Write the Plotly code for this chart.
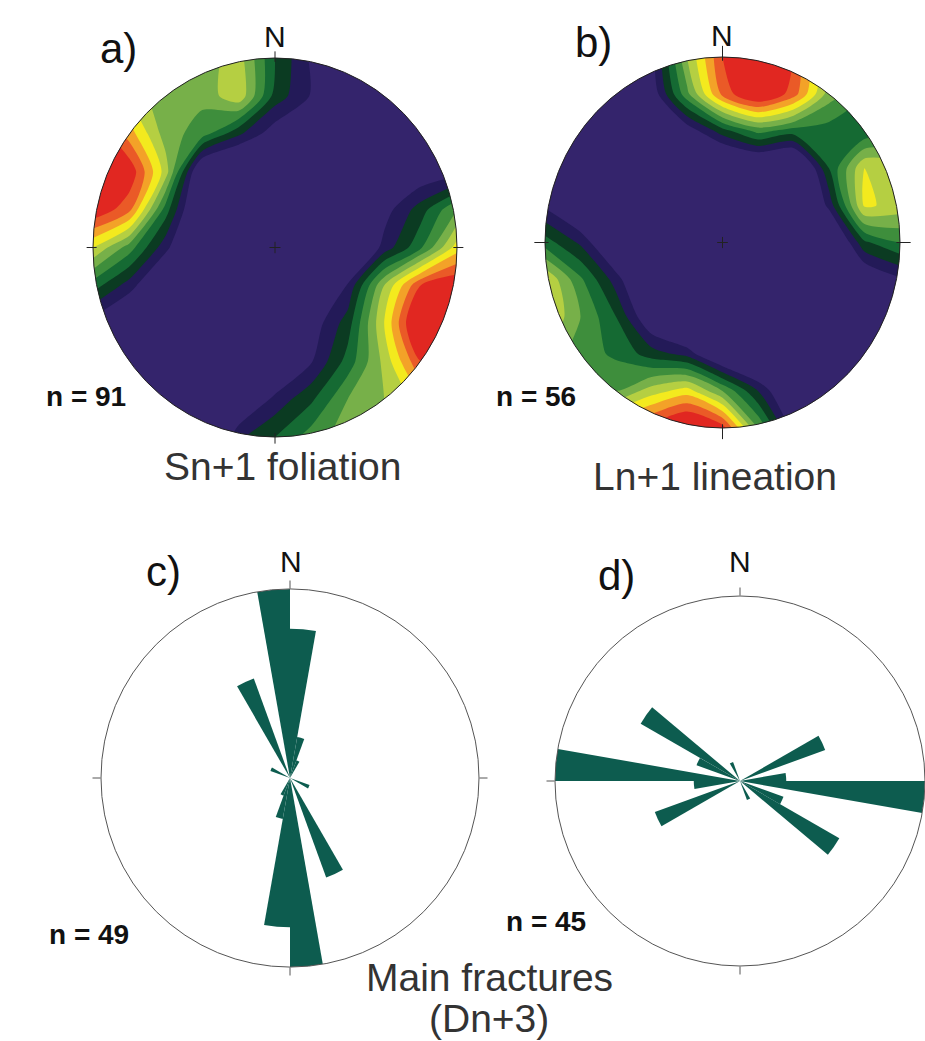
import numpy as np
import plotly.graph_objects as go

W, H = 925, 1041

# ---------------- data ----------------
# density grids (contour level units) read from the stereonets; rows from north (y=1) to south (y=-1)
grid_x = [-1.0, -0.8, -0.6, -0.4, -0.2, 0.0, 0.2, 0.4, 0.6, 0.8, 1.0]
grid_y = [1.0, 0.8, 0.6, 0.4, 0.2, 0.0, -0.2, -0.4, -0.6, -0.8, -1.0]

density_a = [
    [6.0, 6.0, 6.0, 5.5, 6.5, 3.0, 0.8, -1.0, -2.0, -2.0, -2.0],
    [7.0, 6.5, 5.5, 5.3, 6.8, 2.6, 0.9, -1.0, -2.0, -2.0, -2.0],
    [11.0, 8.5, 5.5, 4.5, 2.2, 0.3, -1.5, -2.0, -2.0, -2.0, -2.0],
    [12.5, 10.8, 6.5, -1.0, -2.0, -2.0, -2.0, -2.0, -1.0, 0.0, 0.5],
    [11.0, 9.3, 3.5, -1.5, -2.0, -2.0, -2.0, -1.0, 0.5, 2.5, 5.0],
    [7.0, 4.5, 1.3, -1.5, -2.0, -2.0, -2.0, -1.5, 1.4, 3.8, 7.5],
    [3.5, 1.5, -1.0, -2.0, -2.0, -2.0, -1.0, 1.1, 6.0, 10.0, 11.0],
    [0.5, -1.0, -2.0, -2.0, -2.0, -2.0, 0.3, 2.5, 7.0, 12.0, 12.0],
    [-1.0, -2.0, -2.0, -2.0, -2.0, -1.0, 0.9, 3.4, 6.3, 10.0, 10.0],
    [-2.0, -2.0, -2.0, -2.0, -0.8, 1.3, 2.8, 5.0, 6.0, 7.5, 8.0],
    [-2.0, -2.0, -2.0, -2.0, 1.8, 3.0, 4.5, 5.5, 6.0, 7.0, 8.0],
]

density_b = [
    [-2.0, -2.0, -1.0, 0.5, 6.0, 10.0, 12.0, 10.0, 6.0, 4.0, 3.0],
    [-2.0, -2.0, -1.0, 0.1, 4.7, 9.3, 11.5, 9.5, 5.5, 4.0, 3.5],
    [-2.0, -2.0, -2.0, -1.5, 0.2, 2.5, 4.3, 3.5, 3.5, 3.2, 3.5],
    [0.0, -1.0, -2.0, -2.0, -2.0, -2.0, -1.5, -2.0, 3.0, 7.0, 6.8],
    [0.8, -1.0, -2.0, -2.0, -2.0, -2.0, -2.0, -2.0, 1.3, 7.2, 6.6],
    [3.5, 1.8, -1.0, -2.0, -2.0, -2.0, -2.0, -2.0, -1.5, 2.8, 4.0],
    [7.0, 4.2, 1.5, -1.5, -2.0, -2.0, -2.0, -2.0, -2.0, -0.5, 0.8],
    [7.2, 5.0, 3.0, -0.3, -2.0, -2.0, -2.0, -2.0, -2.0, -2.0, -1.0],
    [6.0, 4.5, 3.8, 2.5, 1.6, -1.0, -2.0, -2.0, -2.0, -2.0, -2.0],
    [6.0, 5.5, 5.0, 6.5, 7.5, 5.0, 2.0, -1.0, -2.0, -2.0, -2.0],
    [6.0, 7.0, 9.0, 10.5, 12.0, 10.5, 5.0, 0.5, -1.0, -2.0, -2.0],
]

# rose diagrams: 10-degree bins 0-180 (bidirectional, mirrored to 180-360)
rose_bin_start = [0, 10, 20, 30, 40, 50, 60, 70, 80, 90, 100, 110, 120, 130, 140, 150, 160, 170]
rose_c = [0.79, 0.22, 0.10, 0, 0, 0, 0, 0, 0, 0, 0, 0.11, 0, 0, 0, 0.56, 0, 1.0]
rose_d = [0, 0, 0, 0, 0, 0, 0.49, 0, 0.25, 1.0, 0, 0.25, 0.62, 0, 0, 0.11, 0, 0]

labels_n = ["n = 91", "n = 56", "n = 49", "n = 45"]

# ---------------- style ----------------
level_colors = ["#34246c", "#231a58", "#0b3b22", "#156a33", "#3e8e3c", "#77b049",
                "#b5cf42", "#f3ea1e", "#f3a228", "#ea5a27", "#e12721"]
petal_color = "#0d5c4f"
FONT = "Liberation Sans, Arial, sans-serif"


def fx(px):
    return px / W


def fy(py):
    return 1 - py / H


fig = go.Figure()

colorscale = [[i / 10, c] for i, c in enumerate(level_colors)]
R = 1.08

stereo = [
    dict(z=density_a, cx=275, cy=247.5, rx=182, ry=189.5, xa="x", ya="y", tick_out=0.035),
    dict(z=density_b, cx=722.5, cy=242.5, rx=177.5, ry=185.5, xa="x2", ya="y2", tick_out=0.06),
]

shapes = []
layout_axes = {}
circ_t = np.linspace(0, -2 * np.pi, 241)
for k, s in enumerate(stereo):
    fig.add_trace(go.Contour(
        x=grid_x, y=grid_y[::-1], z=s["z"][::-1],
        xaxis=s["xa"], yaxis=s["ya"],
        colorscale=colorscale, showscale=False, hoverinfo="skip",
        contours=dict(start=1, end=10, size=1, coloring="fill", showlines=False),
        line=dict(width=0, smoothing=0.7),
    ))
    xname = "xaxis" if k == 0 else "xaxis2"
    yname = "yaxis" if k == 0 else "yaxis2"
    layout_axes[xname] = dict(domain=[fx(s["cx"] - R * s["rx"]), fx(s["cx"] + R * s["rx"])],
                              range=[-R, R], visible=False, fixedrange=True,
                              anchor=s["ya"])
    layout_axes[yname] = dict(domain=[fy(s["cy"] + R * s["ry"]), fy(s["cy"] - R * s["ry"])],
                              range=[-R, R], visible=False, fixedrange=True,
                              anchor=s["xa"])
    # white mask outside the net
    M = 1.5
    path = f"M{-M},{-M} L{M},{-M} L{M},{M} L{-M},{M} Z M" + " L".join(
        f"{np.cos(t):.4f},{np.sin(t):.4f}" for t in circ_t) + " Z"
    shapes.append(dict(type="path", path=path, xref=s["xa"], yref=s["ya"],
                       fillcolor="white", line=dict(width=0), layer="above"))
    shapes.append(dict(type="circle", xref=s["xa"], yref=s["ya"], x0=-1, x1=1, y0=-1, y1=1,
                       line=dict(color="#222", width=1), layer="above"))
    to = s["tick_out"]
    for (x0, y0, x1, y1) in [(0, 1 - 0.02, 0, 1 + to), (0, -1 + 0.02, 0, -1 - to),
                             (-1 + 0.02, 0, -1 - to, 0), (1 - 0.02, 0, 1 + to, 0),
                             (-0.03, 0, 0.03, 0), (0, -0.03, 0, 0.03)]:
        shapes.append(dict(type="line", xref=s["xa"], yref=s["ya"], x0=x0, y0=y0, x1=x1, y1=y1,
                           line=dict(color="#222", width=1), layer="above"))

# rose diagrams
theta_full = [b + 5 for b in rose_bin_start] + [b + 185 for b in rose_bin_start]
for name, vals in [("polar", rose_c), ("polar2", rose_d)]:
    fig.add_trace(go.Barpolar(
        theta=theta_full, r=list(vals) + list(vals), width=[10] * len(theta_full),
        subplot=name, marker=dict(color=petal_color, line=dict(width=0)),
        hoverinfo="skip",
    ))

polar_common = dict(
    bgcolor="white",
    angularaxis=dict(rotation=90, direction="clockwise", showline=True, linecolor="#555",
                     linewidth=1, showgrid=False, ticks="outside", ticklen=8, tickcolor="#555",
                     tickvals=[0, 90, 180, 270], showticklabels=False),
    radialaxis=dict(visible=False, range=[0, 1]),
)
rc = 189
polar_c = dict(domain=dict(x=[fx(290 - rc), fx(290 + rc)], y=[fy(778 + rc), fy(778 - rc)]), **polar_common)
rd = 185
polar_d = dict(domain=dict(x=[fx(740 - rd), fx(740 + rd)], y=[fy(781 + rd), fy(781 - rd)]), **polar_common)

ann = []


def add_text(text, px, py, size, color="#111", xanchor="center", bold=False):
    ann.append(dict(text=f"<b>{text}</b>" if bold else text, x=fx(px), y=fy(py),
                    xref="paper", yref="paper", showarrow=False, xanchor=xanchor,
                    yanchor="middle", font=dict(family=FONT, size=size, color=color)))


add_text("a)", 119, 49, 42)
add_text("N", 275, 36, 30)
add_text("b)", 593, 43, 42)
add_text("N", 722, 35, 30)
add_text("c)", 163, 571, 42)
add_text("N", 291, 561, 30)
add_text("d)", 616, 575, 42)
add_text("N", 740, 561, 30)
add_text(labels_n[0], 128, 397, 28, xanchor="right", bold=True)
add_text(labels_n[1], 578, 397, 28, xanchor="right", bold=True)
add_text(labels_n[2], 131, 934, 28, xanchor="right", bold=True)
add_text(labels_n[3], 588, 921, 28, xanchor="right", bold=True)
add_text("Sn+1 foliation", 282, 466, 39, color="#333")
add_text("Ln+1 lineation", 715, 476, 39, color="#333")
add_text("Main fractures", 489, 977, 39, color="#333")
add_text("(Dn+3)", 489, 1018, 39, color="#333")

fig.update_layout(
    width=W, height=H, margin=dict(l=0, r=0, t=0, b=0),
    paper_bgcolor="white", plot_bgcolor="white", showlegend=False,
    polar=polar_c, polar2=polar_d,
    shapes=shapes, annotations=ann,
    **layout_axes,
)

fig.write_html("out.html")
